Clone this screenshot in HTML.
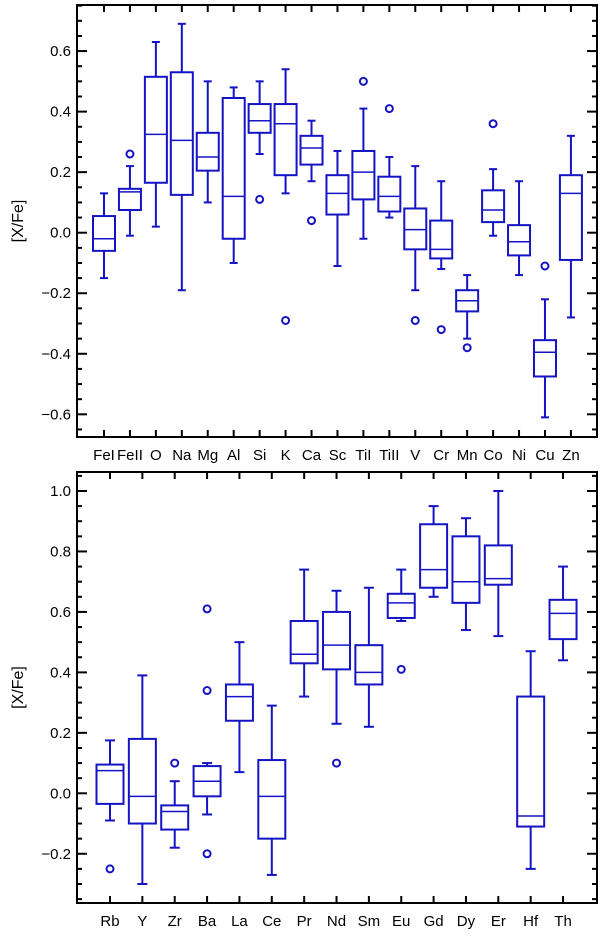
<!DOCTYPE html>
<html><head><meta charset="utf-8"><style>
body{margin:0;background:#fff;}
svg{display:block;font-family:"Liberation Sans",sans-serif;}
</style></head><body>
<svg id="chart" width="600" height="936"></svg>
<script>
const topCats=["FeI","FeII","O","Na","Mg","Al","Si","K","Ca","Sc","TiI","TiII","V","Cr","Mn","Co","Ni","Cu","Zn"];
const topLabels=["FeI","FeII","O","Na","Mg","Al","Si","K","Ca","Sc","TiI","TiII","V","Cr","Mn","Co","Ni","Cu","Zn"];
const topWLo=[-0.15,-0.01,0.02,-0.19,0.10,-0.10,0.26,0.13,0.17,-0.11,-0.02,0.05,-0.19,-0.12,-0.35,-0.01,-0.14,-0.61,-0.28];
const topWHi=[0.13,0.22,0.63,0.69,0.50,0.48,0.50,0.54,0.37,0.27,0.41,0.25,0.22,0.17,-0.14,0.21,0.17,-0.22,0.32];
const topQ1=[-0.06,0.075,0.165,0.125,0.205,-0.02,0.33,0.19,0.225,0.06,0.11,0.07,-0.055,-0.085,-0.26,0.035,-0.075,-0.475,-0.09];
const topQ3=[0.055,0.145,0.515,0.53,0.33,0.445,0.425,0.425,0.32,0.19,0.27,0.185,0.08,0.04,-0.19,0.14,0.025,-0.355,0.19];
const topMed=[-0.02,0.135,0.325,0.305,0.25,0.12,0.37,0.36,0.28,0.13,0.20,0.12,0.01,-0.055,-0.225,0.075,-0.03,-0.395,0.13];
const topOut=[[],[0.26],[],[],[],[],[0.11],[-0.29],[0.04],[],[0.50],[0.41],[-0.29],[-0.32],[-0.38],[0.36],[],[-0.11],[]];
const topTicks=[-0.6,-0.4,-0.2,0.0,0.2,0.4,0.6];
const topTickLabels=["\u22120.6","\u22120.4","\u22120.2","0.0","0.2","0.4","0.6"];

const botCats=["Rb","Y","Zr","Ba","La","Ce","Pr","Nd","Sm","Eu","Gd","Dy","Er","Hf","Th"];
const botLabels=["Rb","Y","Zr","Ba","La","Ce","Pr","Nd","Sm","Eu","Gd","Dy","Er","Hf","Th"];
const botWLo=[-0.09,-0.30,-0.18,-0.07,0.07,-0.27,0.32,0.23,0.22,0.57,0.65,0.54,0.52,-0.25,0.44];
const botWHi=[0.175,0.39,0.04,0.10,0.50,0.29,0.74,0.67,0.68,0.74,0.95,0.91,1.00,0.47,0.75];
const botQ1=[-0.035,-0.10,-0.12,-0.01,0.24,-0.15,0.43,0.41,0.36,0.58,0.68,0.63,0.69,-0.11,0.51];
const botQ3=[0.095,0.18,-0.04,0.09,0.36,0.11,0.57,0.60,0.49,0.66,0.89,0.85,0.82,0.32,0.64];
const botMed=[0.075,-0.01,-0.06,0.04,0.32,-0.01,0.46,0.49,0.40,0.63,0.74,0.70,0.71,-0.075,0.595];
const botOut=[[-0.25],[],[0.10],[0.61,0.34,-0.20],[],[],[],[0.10],[],[0.41],[],[],[],[],[]];
const botTicks=[-0.2,0.0,0.2,0.4,0.6,0.8,1.0];
const botTickLabels=["\u22120.2","0.0","0.2","0.4","0.6","0.8","1.0"];

const NS="http://www.w3.org/2000/svg";
const svg=document.getElementById("chart");
const C="#1414c4";
function mk(tag,attrs,parent){const e=document.createElementNS(NS,tag);for(const k in attrs)e.setAttribute(k,attrs[k]);(parent||svg).appendChild(e);return e;}

function panel(p){
  const g=mk("g",{});
  
  
  const y=v=>p.y0-p.s*v;
  const x=i=>p.x0+p.dx*i;
  const fr=mk("rect",{x:p.L,y:p.T,width:p.R-p.L,height:p.B-p.T,fill:"none",stroke:"#000","stroke-width":2},g);
  
  
  const vmin=(p.y0-p.B)/p.s, vmax=(p.y0-p.T)/p.s;
  for(let k=Math.ceil(vmin/0.05);k<=Math.floor(vmax/0.05);k++){
    const v=k*0.05, yy=y(v), major=(Math.abs(k%4)===0);
    const len=major?10:5;
    mk("line",{x1:p.L,x2:p.L+len,y1:yy,y2:yy,stroke:"#000","stroke-width":2},g);
    mk("line",{x1:p.R,x2:p.R-len,y1:yy,y2:yy,stroke:"#000","stroke-width":2},g);
  }
  p.ticks.forEach((v,i)=>{
    const t=mk("text",{x:p.L-6,y:y(v)+5,"text-anchor":"end","font-size":15,fill:"#000"},g);
    t.textContent=p.tickLabels[i];
    
    
  });
  const yl=mk("text",{x:0,y:0,transform:`translate(23,${(p.T+p.B)/2}) rotate(-90)`,"text-anchor":"middle","font-size":16,fill:"#000"},g);
  yl.textContent="[X/Fe]";
  
  
  p.cats.forEach((c,i)=>{
    const xx=x(i);
    mk("line",{x1:xx,x2:xx,y1:p.B,y2:p.B-7,stroke:"#000","stroke-width":2},g);
    mk("line",{x1:xx,x2:xx,y1:p.T,y2:p.T+7,stroke:"#000","stroke-width":2},g);
    const t=mk("text",{x:xx,y:p.B+23,"text-anchor":"middle","font-size":15,fill:"#000"},g);
    t.textContent=p.labels[i];
    
    
    const bg=mk("g",{stroke:C,fill:"none","stroke-width":2},g);
    
    
    const hw=p.bw/2, cw=p.cw/2;
    mk("line",{x1:xx,x2:xx,y1:y(p.whi[i]),y2:y(p.q3[i])},bg);
    mk("line",{x1:xx,x2:xx,y1:y(p.q1[i]),y2:y(p.wlo[i])},bg);
    mk("line",{x1:xx-cw,x2:xx+cw,y1:y(p.whi[i]),y2:y(p.whi[i])},bg);
    mk("line",{x1:xx-cw,x2:xx+cw,y1:y(p.wlo[i]),y2:y(p.wlo[i])},bg);
    mk("rect",{x:xx-hw,y:y(p.q3[i]),width:p.bw,height:y(p.q1[i])-y(p.q3[i])},bg);
    mk("line",{x1:xx-hw,x2:xx+hw,y1:y(p.med[i]),y2:y(p.med[i]),"stroke-width":1.5},bg);
    p.out[i].forEach(v=>{
      const o=mk("circle",{cx:xx,cy:y(v),r:3.5},bg);
      
      
    });
  });
}
panel({name:"top-panel",L:77,R:597,T:5,B:437,y0:232.7,s:302.7,x0:104,dx:25.94,bw:22,cw:8,
  cats:topCats,labels:topLabels,wlo:topWLo,whi:topWHi,q1:topQ1,q3:topQ3,med:topMed,out:topOut,ticks:topTicks,tickLabels:topTickLabels});
panel({name:"bottom-panel",L:77,R:597,T:472,B:903,y0:793.3,s:302.3,x0:110,dx:32.36,bw:27,cw:10,
  cats:botCats,labels:botLabels,wlo:botWLo,whi:botWHi,q1:botQ1,q3:botQ3,med:botMed,out:botOut,ticks:botTicks,tickLabels:botTickLabels});
</script>
</body></html>
